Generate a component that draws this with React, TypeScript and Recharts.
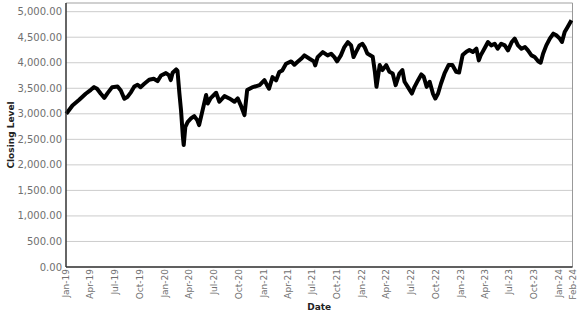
import React from "react"
import { CartesianGrid, Line, LineChart, ReferenceLine, XAxis, YAxis } from "recharts"

// closing levels
const dates = [
  "2019-01-02", "2019-01-25", "2019-02-19", "2019-03-15", "2019-04-03", "2019-04-15", "2019-04-26",
  "2019-05-10", "2019-05-23", "2019-06-04", "2019-06-21", "2019-07-11", "2019-07-23", "2019-08-05",
  "2019-08-16", "2019-08-30", "2019-09-11", "2019-09-23", "2019-10-04", "2019-10-18", "2019-11-05",
  "2019-11-22", "2019-12-06", "2019-12-19", "2020-01-06", "2020-01-17", "2020-01-24", "2020-01-31",
  "2020-02-13", "2020-02-18", "2020-02-25", "2020-03-02", "2020-03-09", "2020-03-12", "2020-03-18",
  "2020-03-27", "2020-04-08", "2020-04-20", "2020-05-01", "2020-05-08", "2020-05-21", "2020-06-03",
  "2020-06-09", "2020-06-19", "2020-07-10", "2020-07-22", "2020-08-10", "2020-08-28", "2020-09-16",
  "2020-09-28", "2020-10-09", "2020-10-23", "2020-11-02", "2020-11-20", "2020-12-18", "2021-01-05",
  "2021-01-15", "2021-01-22", "2021-02-04", "2021-02-17", "2021-03-01", "2021-03-12", "2021-03-26",
  "2021-04-14", "2021-04-26", "2021-05-07", "2021-05-21", "2021-06-02", "2021-06-21", "2021-07-07",
  "2021-07-12", "2021-07-21", "2021-08-09", "2021-08-27", "2021-09-09", "2021-09-21", "2021-10-01",
  "2021-10-15", "2021-10-28", "2021-11-10", "2021-11-22", "2021-12-01", "2021-12-10", "2021-12-23",
  "2022-01-03", "2022-01-11", "2022-01-21", "2022-02-10", "2022-02-18", "2022-02-24", "2022-03-08",
  "2022-03-18", "2022-04-01", "2022-04-13", "2022-04-25", "2022-05-06", "2022-05-20", "2022-05-31",
  "2022-06-08", "2022-06-20", "2022-07-05", "2022-07-15", "2022-07-28", "2022-08-09", "2022-08-18",
  "2022-08-29", "2022-09-09", "2022-09-21", "2022-09-30", "2022-10-10", "2022-10-21", "2022-11-03",
  "2022-11-18", "2022-12-02", "2022-12-16", "2022-12-27", "2023-01-09", "2023-01-23", "2023-02-03",
  "2023-02-16", "2023-03-01", "2023-03-10", "2023-03-17", "2023-04-03", "2023-04-13", "2023-04-25",
  "2023-05-08", "2023-05-19", "2023-06-01", "2023-06-14", "2023-06-26", "2023-07-10", "2023-07-21",
  "2023-08-02", "2023-08-15", "2023-08-28", "2023-09-08", "2023-09-21", "2023-10-03", "2023-10-16",
  "2023-10-25", "2023-11-03", "2023-11-15", "2023-11-28", "2023-12-11", "2023-12-22", "2024-01-04",
  "2024-01-12", "2024-01-22", "2024-02-02", "2024-02-16",
]

const closes = [
  3000, 3163, 3274, 3392, 3470, 3522, 3490,
  3392, 3313, 3405, 3522, 3535, 3457, 3294,
  3327, 3425, 3535, 3568, 3522, 3588, 3666,
  3686, 3640, 3751, 3797, 3758, 3660, 3804,
  3869, 3840, 3400, 3073, 2550, 2387, 2746,
  2844, 2909, 2955, 2877, 2779, 3073, 3367,
  3203, 3301, 3412, 3236, 3347, 3301, 3236,
  3301, 3171, 2975, 3464, 3517, 3562, 3660,
  3556, 3491, 3719, 3654, 3817, 3850, 3980,
  4026, 3961, 4013, 4078, 4144, 4078, 4026,
  3948, 4111, 4209, 4144, 4176, 4111, 4026,
  4144, 4307, 4405, 4340, 4111, 4209, 4340,
  4372, 4307, 4180, 4118, 3823, 3528, 3954,
  3856, 3954, 3823, 3790, 3561, 3790, 3856,
  3627, 3528, 3397, 3528, 3659, 3771, 3725,
  3528, 3627, 3397, 3299, 3397, 3594, 3790,
  3954, 3954, 3823, 3810, 4151, 4216, 4250,
  4210, 4275, 4046, 4144, 4308, 4406, 4340,
  4373, 4275, 4373, 4340, 4242, 4406, 4472,
  4340, 4275, 4308, 4242, 4144, 4111, 4030,
  4000, 4177, 4340, 4472, 4570, 4537, 4472,
  4406, 4603, 4701, 4832,
]

const xTicks = [
  "2019-01-01", "2019-04-01", "2019-07-01", "2019-10-01",
  "2020-01-01", "2020-04-01", "2020-07-01", "2020-10-01",
  "2021-01-01", "2021-04-01", "2021-07-01", "2021-10-01",
  "2022-01-01", "2022-04-01", "2022-07-01", "2022-10-01",
  "2023-01-01", "2023-04-01", "2023-07-01", "2023-10-01",
  "2024-01-01", "2024-02-20",
]
const xDomain = ["2019-01-01", "2024-02-20"]
const yTicks = [0, 500, 1000, 1500, 2000, 2500, 3000, 3500, 4000, 4500, 5000]
const yMax = 5170

const months = ["Jan", "Feb", "Mar", "Apr", "May", "Jun", "Jul", "Aug", "Sep", "Oct", "Nov", "Dec"]

const toTime = (s: string) => new Date(s + "T00:00:00Z").getTime()

const formatDate = (t: number) => {
  const d = new Date(t)
  return months[d.getUTCMonth()] + "-" + String(d.getUTCFullYear()).slice(2)
}

const formatLevel = (v: number) =>
  v.toLocaleString("en-US", { minimumFractionDigits: 2, maximumFractionDigits: 2 })

const chartData = dates.map((d, i) => ({ t: toTime(d), close: closes[i] }))

const FONT = "'DejaVu Sans', Verdana, sans-serif"

function DateTick({ x, y, payload }: any) {
  return (
    <text
      x={x}
      y={y}
      dy="0.35em"
      transform={`rotate(-90 ${x} ${y})`}
      textAnchor="end"
      fontSize={9}
      fontFamily={FONT}
      fill="#707070"
    >
      {formatDate(payload.value)}
    </text>
  )
}

function YTitle({ viewBox }: any) {
  const cx = viewBox.x + 14
  const cy = viewBox.y + viewBox.height / 2
  return (
    <text
      x={cx}
      y={cy}
      transform={`rotate(-90 ${cx} ${cy})`}
      textAnchor="middle"
      fontSize={9}
      fontWeight="bold"
      fontFamily={FONT}
      fill="#222"
    >
      Closing Level
    </text>
  )
}

function XTitle({ viewBox }: any) {
  return (
    <text
      x={viewBox.x + viewBox.width / 2}
      y={309.5}
      textAnchor="middle"
      fontSize={9}
      fontWeight="bold"
      fontFamily={FONT}
      fill="#222"
    >
      Date
    </text>
  )
}

export default function App() {
  return (
    <div style={{ position: "absolute", left: 0, top: 0, background: "#fff" }}>
      <LineChart
        width={577}
        height={315}
        data={chartData}
        margin={{ top: 3, right: 4.5, left: 0, bottom: 0 }}
      >
        <CartesianGrid vertical={false} stroke="#cccccc" />
        <XAxis
          dataKey="t"
          type="number"
          scale="time"
          domain={[toTime(xDomain[0]), toTime(xDomain[1])]}
          ticks={xTicks.map(toTime)}
          interval={0}
          height={48}
          tickLine={false}
          tickSize={0}
          tickMargin={2}
          tick={<DateTick />}
          axisLine={{ stroke: "#333", strokeWidth: 1.5 }}
          label={{ value: "Date", content: <XTitle /> }}
        />
        <YAxis
          type="number"
          domain={[0, yMax]}
          ticks={yTicks}
          interval={0}
          width={66}
          tickLine={false}
          tickSize={0}
          tickMargin={4}
          tickFormatter={formatLevel}
          tick={{ fontSize: 10, fill: "#707070", fontFamily: FONT }}
          axisLine={{ stroke: "#333", strokeWidth: 1.5 }}
          label={{ value: "Closing Level", content: <YTitle /> }}
        />
        <ReferenceLine y={yMax} stroke="#bbbbbb" />
        <ReferenceLine x={toTime(xDomain[1])} stroke="#999999" />
        <Line
          type="linear"
          dataKey="close"
          stroke="#000"
          strokeWidth={4}
          strokeLinejoin="round"
          dot={false}
          isAnimationActive={false}
        />
      </LineChart>
    </div>
  )
}
